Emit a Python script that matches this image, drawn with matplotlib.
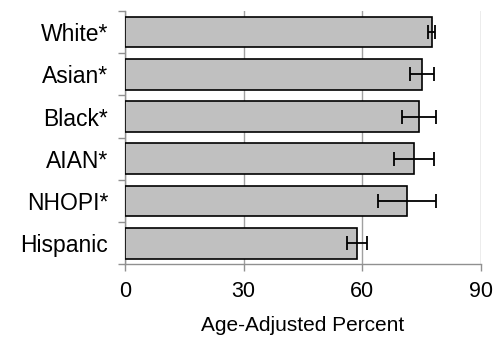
import numpy as np
import matplotlib
matplotlib.use('Agg')
import matplotlib.pyplot as plt

plt.rcParams['font.family'] = ['Liberation Sans', 'DejaVu Sans']

# data (top to bottom)
groups = ['White*', 'Asian*', 'Black*', 'AIAN*', 'NHOPI*', 'Hispanic']
percent = [77.6, 75.1, 74.2, 73.1, 71.3, 58.7]
ci_low = [76.5, 72.0, 69.9, 68.0, 64.0, 56.2]
ci_high = [78.4, 78.0, 78.6, 78.2, 78.6, 61.2]
xticks = [0, 30, 60, 90]

pos = np.arange(len(groups))[::-1]
vals = np.array(percent)
err = np.vstack([vals - np.array(ci_low), np.array(ci_high) - vals])

fig = plt.figure(figsize=(4.94, 3.39), dpi=100)
ax = fig.add_axes([0.253, 0.22, 0.721, 0.748])

ax.barh(pos, vals, height=0.73, color='#c0c0c0', edgecolor='black',
        linewidth=1.2, zorder=3)
ax.errorbar(vals, pos, xerr=err, fmt='none', ecolor='black',
            elinewidth=1.3, capsize=4.8, capthick=1.3, zorder=4)

ax.set_xlim(0, 90)
ax.set_ylim(-0.5, len(groups) - 0.5)
ax.set_xticks(xticks)
ax.xaxis.grid(True, color='#a0a0a0', linewidth=1.0, zorder=0)
ax.set_axisbelow(True)

ax.set_yticks(pos)
ax.set_yticklabels(groups)
ax.set_yticks(np.arange(-0.5, len(groups)), minor=True)
ax.tick_params(axis='y', which='major', length=0, pad=12, labelsize=16.5)
ax.tick_params(axis='y', which='minor', length=5, width=1, color='#909090')
ax.tick_params(axis='x', length=5, width=1, color='#909090', pad=7,
               labelsize=15.5)

for side in ['top', 'right']:
    ax.spines[side].set_visible(False)
for side in ['left', 'bottom']:
    ax.spines[side].set_color('#909090')
    ax.spines[side].set_linewidth(1.0)

ax.set_xlabel('Age-Adjusted Percent', fontsize=15, labelpad=10)

fig.savefig('out.png', dpi=100, facecolor='white')
